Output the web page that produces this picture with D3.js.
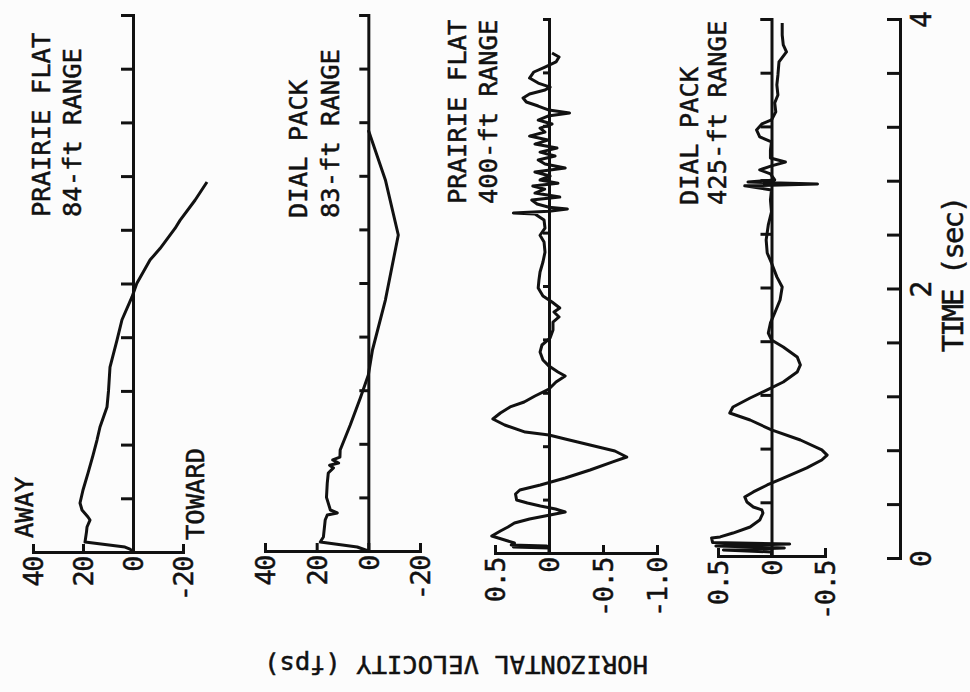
<!DOCTYPE html>
<html>
<head>
<meta charset="utf-8">
<script src="https://cdn.jsdelivr.net/npm/d3@7"></script>
<style>
  body { margin: 0; background: #fcfcfc; }
  text { font-family: "DejaVu Sans Mono", "Liberation Mono", monospace; fill: #111; stroke: #111; stroke-width: 0.5px; }
</style>
</head>
<body>
<div id="plot"></div>
<script>

// time ticks (sec), every 0.4 s, labels only at 0, 2, 4
var timeTicks = [0, 0.4, 0.8, 1.2, 1.6, 2.0, 2.4, 2.8, 3.2, 3.6, 4.0];
var timeLabels = [0, 2, 4];

// velocity ticks per panel
var fpsTicksA = [40, 20, 0, -20];
var fpsTicksB = [40, 20, 0, -20];
var fpsTicksC = [0.5, 0, -0.5, -1.0];
var fpsTicksD = [0.5, 0, -0.5];
var fpsLabelsC = ["0.5", "0", "-0.5", "-1.0"];
var fpsLabelsD = ["0.5", "0", "-0.5"];

var titleA = ["PRAIRIE FLAT", "84-ft RANGE"];
var titleB = ["DIAL PACK", "83-ft RANGE"];
var titleC = ["PRAIRIE FLAT", "400-ft RANGE"];
var titleD = ["DIAL PACK", "425-ft RANGE"];

// [time (sec), horizontal velocity (fps)]
var pf84 = [[0,0],[0.022,1.2],[0.037,3.2],[0.074,19.2],[0.15,18.6],[0.186,18.4],[0.238,17.2],[0.261,18],
  [0.313,20.4],[0.365,21.2],[0.462,20],[0.588,18],[0.72,16],[0.834,14.4],[0.931,13.2],[1.08,10.4],
  [1.2,9.8],[1.378,9.2],[1.579,6.4],[1.73,4.4],[1.9,0.4],[2.0,-1.5],[2.175,-6.8],[2.26,-10.8],
  [2.41,-16.8],[2.47,-18.8],[2.62,-24.8],[2.756,-29.6]];

var dp83 = [[0,0],[0.03,4.3],[0.067,18.6],[0.104,17.4],[0.231,16.7],[0.269,15.9],[0.284,12],[0.306,14.7],
  [0.4,16.2],[0.507,15.9],[0.582,15.5],[0.62,13.5],[0.64,15],[0.657,11.5],[0.68,13.8],[0.7,11],
  [0.754,10.9],[0.94,7],[1.142,3.1],[1.313,0],[1.5,-1.6],[1.873,-6.6],[2.358,-11.6],[2.769,-6.6],[3.142,0]];

var pf400 = [[0,0],[0.037,0],[0.045,0.33],[0.052,0.02],[0.06,0.35],[0.075,0.32],[0.127,0.53],[0.165,0.45],
  [0.195,0.38],[0.225,0.32],[0.255,0.18],[0.285,-0.01],[0.307,-0.15],[0.33,-0.06],[0.352,0.08],[0.375,0.2],
  [0.397,0.3],[0.442,0.31],[0.472,0.27],[0.509,0.08],[0.562,-0.15],[0.622,-0.38],[0.682,-0.59],[0.719,-0.72],
  [0.764,-0.61],[0.809,-0.38],[0.854,-0.15],[0.884,0],[0.906,0.22],[0.959,0.41],[1.004,0.52],[1.049,0.45],
  [1.094,0.36],[1.131,0.23],[1.176,0.13],[1.228,0],[1.281,-0.065],[1.326,-0.15],[1.356,-0.083],[1.4,0],
  [1.446,0.056],[1.505,0.083],[1.558,0.065],[1.61,-0.01],[1.67,-0.037],[1.73,-0.037],[1.768,-0.093],
  [1.805,-0.046],[1.835,-0.1],[1.88,-0.028],[1.925,0.056],[1.985,0.1],[2.045,0.093],[2.105,0.083],
  [2.18,0.056],[2.254,0.037],[2.33,0.046],[2.38,0.083],[2.434,0.037],[2.494,0.046],[2.54,0.13],[2.547,0.33],
  [2.56,0],[2.577,-0.17],[2.59,0],[2.614,0.11],[2.644,0.16],[2.666,-0.1],[2.696,0.13],[2.726,0.04],
  [2.749,0.15],[2.77,-0.083],[2.794,0.083],[2.824,-0.01],[2.854,0.13],[2.884,-0.15],[2.914,0.037],
  [2.944,0.1],[2.974,-0.056],[3.003,0.083],[3.033,-0.074],[3.063,0.13],[3.093,0.01],[3.123,0.18],
  [3.153,0.037],[3.183,0.083],[3.213,-0.028],[3.243,0.1],[3.273,0.01],[3.296,-0.19],[3.318,0],[3.348,0.1],
  [3.378,0.21],[3.408,0.24],[3.438,0.18],[3.468,0.037],[3.49,-0.01],[3.52,0.1],[3.558,0.18],[3.603,0.14],
  [3.64,0.037],[3.678,-0.065],[3.715,-0.093],[3.745,-0.028]];

var dp425 = [[0,0],[0.03,0],[0.045,0.45],[0.06,-0.12],[0.075,0.52],[0.09,-0.17],[0.1,0.55],[0.134,0.56],
  [0.142,0.48],[0.171,0.36],[0.216,0.2],[0.268,0.11],[0.32,0.08],[0.343,0.09],[0.365,0.17],[0.402,0.23],
  [0.44,0.25],[0.477,0.17],[0.529,0.04],[0.581,-0.11],[0.656,-0.33],[0.715,-0.47],[0.752,-0.52],[0.79,-0.47],
  [0.864,-0.27],[0.939,0],[1.013,0.2],[1.065,0.39],[1.11,0.36],[1.177,0.2],[1.237,0.04],[1.296,-0.11],
  [1.37,-0.24],[1.423,-0.27],[1.483,-0.24],[1.557,-0.11],[1.609,0],[1.661,0.03],[1.736,0.01],[1.81,-0.03],
  [1.907,-0.08],[2.004,-0.1],[2.079,-0.05],[2.183,0],[2.257,0.04],[2.354,0.05],[2.466,0.03],[2.563,0],
  [2.652,0.01],[2.727,0],[2.757,0.25],[2.771,-0.43],[2.786,0.22],[2.801,-0.03],[2.846,0.01],[2.876,0.11],
  [2.906,0],[2.935,-0.13],[2.965,0.01],[3.025,0.01],[3.084,0],[3.122,0.11],[3.174,0.14],[3.218,0.09],
  [3.248,0],[3.308,-0.04],[3.375,-0.03],[3.434,-0.06],[3.509,-0.05],[3.583,-0.06],[3.68,-0.07],
  [3.755,-0.14],[3.807,-0.11],[3.881,-0.1],[3.971,-0.1]];

var panels = [
  { data: pf84,  ticks: fpsTicksA, labels: null,       title: titleA, xr: [33, 183],  yr: [552, 15], tk: 12, tx: [41, 72],   ty: 217 },
  { data: dp83,  ticks: fpsTicksB, labels: null,       title: titleB, xr: [265, 420], yr: [551, 15], tk: 9,  tx: [298, 330], ty: 218 },
  { data: pf400, ticks: fpsTicksC, labels: fpsLabelsC, title: titleC, xr: [495, 657], yr: [553, 19], tk: 6,  tx: [457, 488], ty: 204 },
  { data: dp425, ticks: fpsTicksD, labels: fpsLabelsD, title: titleD, xr: [718, 825], yr: [556, 19], tk: 11, tx: [689, 717], ty: 205 }
];

var svg = d3.select('#plot').append('svg').attr('width', 970).attr('height', 692);

svg.append('rect').attr('width', 970).attr('height', 692).attr('fill', '#fcfcfc');

panels.forEach(function(p) {

    var x = d3.scaleLinear().domain([p.ticks[0], p.ticks[p.ticks.length - 1]]).range(p.xr);
    var y = d3.scaleLinear().domain([0, 4]).range(p.yr);

    // value axis along the bottom, ticks pointing up
    var xa = svg.append('g')
        .attr('transform', 'translate(0,' + p.yr[0] + ')')
        .call(d3.axisBottom(x).tickValues(p.ticks).tickSizeInner(-8).tickSizeOuter(-8)
            .tickFormat(function(d, i) { return p.labels ? p.labels[i] : d; }));
    xa.selectAll('text')
        .attr('transform', 'rotate(-90)')
        .attr('x', -5).attr('y', 0).attr('dy', '0.36em')
        .style('text-anchor', 'end')
        .style('font-size', '27px')
        .style('letter-spacing', '-1.5px')
        .attr('fill', '#111');

    // zero line with time ticks
    svg.append('g')
        .attr('transform', 'translate(' + x(0) + ',0)')
        .call(d3.axisLeft(y).tickValues(timeTicks).tickSizeInner(p.tk).tickSizeOuter(p.tk).tickFormat(''));

    var line = d3.line()
        .x(function(d) { return x(d[1]); })
        .y(function(d) { return y(d[0]); });

    svg.append('path')
        .attr('d', line(p.data))
        .style('fill', 'none')
        .style('stroke', '#111')
        .style('stroke-width', 3)
        .style('stroke-linejoin', 'round');

    p.title.forEach(function(s, i) {
        svg.append('text')
            .attr('transform', 'translate(' + p.tx[i] + ',' + p.ty + ') rotate(-90)')
            .attr('dy', '0.36em')
            .style('font-size', '25.5px')
            .text(s);
    });
});

svg.selectAll('.domain, .tick line')
    .attr('stroke', '#111')
    .attr('stroke-width', 3);

// AWAY / TOWARD marks on the first panel
svg.append('text').attr('transform', 'translate(24,538) rotate(-90)').attr('dy', '0.36em')
    .style('font-size', '25.5px').text('AWAY');
svg.append('text').attr('transform', 'translate(195,540) rotate(-90)').attr('dy', '0.36em')
    .style('font-size', '25.5px').text('TOWARD');

// time axis on the right
var ty = d3.scaleLinear().domain([0, 4]).range([558, 19]);
var ta = svg.append('g')
    .attr('transform', 'translate(900,0)')
    .call(d3.axisRight(ty).tickValues(timeTicks).tickSizeInner(-13).tickSizeOuter(-13)
        .tickFormat(function(d) { return timeLabels.indexOf(d) >= 0 ? d : ''; }));
ta.selectAll('.domain, .tick line').attr('stroke', '#111').attr('stroke-width', 3);
ta.selectAll('text')
    .attr('transform', 'translate(21,0) rotate(-90)')
    .attr('x', 0).attr('y', 0).attr('dy', '0.36em')
    .style('text-anchor', 'middle')
    .style('font-size', '28px')
    .attr('fill', '#111');

svg.append('text')
    .attr('transform', 'translate(953,275) rotate(-90)')
    .attr('dy', '0.36em')
    .style('text-anchor', 'middle')
    .style('font-size', '29px')
    .style('letter-spacing', '-2px')
    .text('TIME (sec)');

// axis title, printed upside down
svg.append('text')
    .attr('transform', 'translate(456,665) rotate(180)')
    .attr('dy', '0.36em')
    .style('text-anchor', 'middle')
    .style('font-size', '25.5px')
    .text('HORIZONTAL VELOCITY (fps)');

</script>
</body>
</html>
